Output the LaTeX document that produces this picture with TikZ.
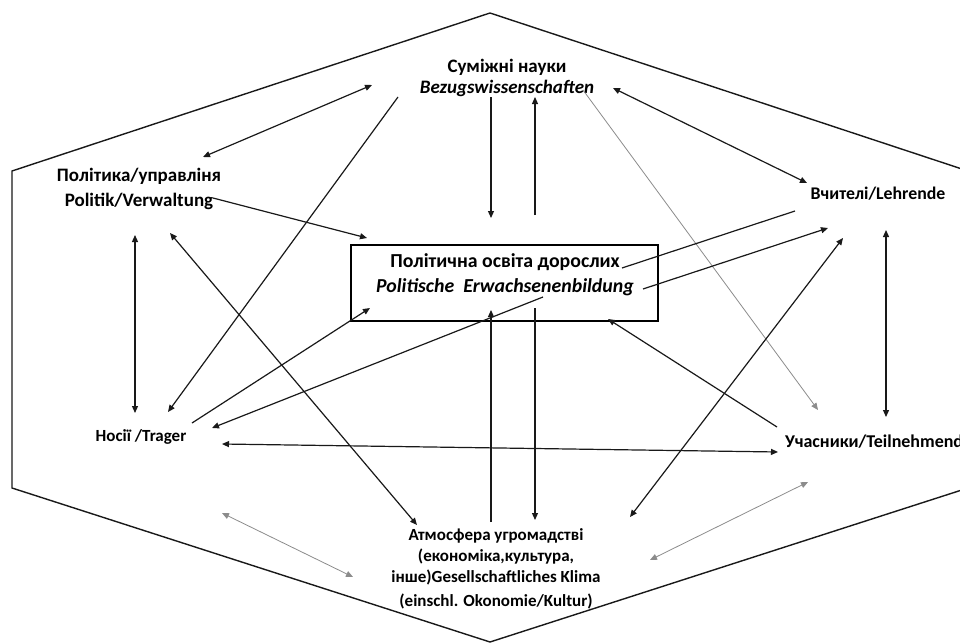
\documentclass[tikz,border=0pt]{standalone}
\usepackage{fontspec}
\setmainfont{Carlito}
\usetikzlibrary{arrows.meta}
\tikzset{
  lbl/.style={font=\fontsize{#1}{#1}\selectfont\bfseries, align=center, inner sep=0pt},
  lbl/.default=17,
  conn/.style={line width=1.2pt, draw=black!90},
  thin/.style={line width=0.8pt, draw=black!45},
  tip/.style={-{Triangle[length=7pt,width=6pt]}},
  tips/.style={{Triangle[length=7pt,width=6pt]}-{Triangle[length=7pt,width=6pt]}},
  frame/.style={line width=1.4pt, draw=black!90},
}
\begin{document}
\begin{tikzpicture}[x=1pt,y=-1pt]
\clip (0,0) rectangle (960,642);
\fill[white] (0,0) rectangle (960,642);
% hexagon
\draw[frame] (490,13) -- (968,171) -- (968,488) -- (490,642) -- (12,488) -- (12,171) -- cycle;
% nodes
\node[lbl=19] (sci) at (507,77.5) {Суміжні науки\\[2pt]\textit{Bezugswissenschaften}};
\node[lbl=19] (pol) at (139,188.5) {Політика/управліня\\[6pt]Politik/Verwaltung};
\node[lbl=17.8] (teach) at (878,194) {Вчителі/Lehrende};
\node[lbl=17] (carr) at (141,437) {Носії /Trager};
\node[lbl=18, anchor=west] (part) at (785,442) {Учасники/Teilnehmende};
\node[draw, line width=1.3pt, minimum width=307pt, minimum height=76pt, inner sep=0pt] (box) at (504.5,283) {};
\node[lbl=19.8] (boxtxt) at (505,274.5) {Політична освіта дорослих\\[5pt]\textit{Politische\ \ Erwachsenenbildung}};
\node[lbl=17] (atm) at (496,569) {Атмосфера угромадстві\\[4pt](економіка,культура,\\[4pt]інше)Gesellschaftliches Klima\\[7pt](einschl. Okonomie/Kultur)};
% connector end points
\coordinate (c1a) at (372,85);  \coordinate (c1b) at (203,157);
\coordinate (c2a) at (398,97);  \coordinate (c2b) at (168,412);
\coordinate (c3a) at (213,198); \coordinate (c3b) at (367,238);
\coordinate (c4a) at (135,235); \coordinate (c4b) at (135,413);
\coordinate (c5a) at (170,233); \coordinate (c5b) at (417,525);
\coordinate (c6a) at (192,423); \coordinate (c6b) at (370,308);
\coordinate (c7a) at (543,297); \coordinate (c7b) at (212,428);
\coordinate (c8a) at (491,97);  \coordinate (c8b) at (491,218);
\coordinate (c9a) at (535,215); \coordinate (c9b) at (535,97);
\coordinate (c10a) at (613,88); \coordinate (c10b) at (807,183);
\coordinate (c11a) at (583,90); \coordinate (c11b) at (818,410);
\coordinate (c12a) at (795,211); \coordinate (c12b) at (622,268);
\coordinate (c13a) at (643,289); \coordinate (c13b) at (828,228);
\coordinate (c14a) at (843,238); \coordinate (c14b) at (630,517);
\coordinate (c15a) at (886,230); \coordinate (c15b) at (886,417);
\coordinate (c16a) at (777,427); \coordinate (c16b) at (608,319);
\coordinate (c17a) at (222,444); \coordinate (c17b) at (778,452);
\coordinate (c18a) at (491,522); \coordinate (c18b) at (491,310);
\coordinate (c19a) at (535,308); \coordinate (c19b) at (535,520);
\coordinate (c20a) at (222,513); \coordinate (c20b) at (353,577);
\coordinate (c21a) at (808,482); \coordinate (c21b) at (650,560);
% connectors
\draw[conn,tips] (c1a) -- (c1b);
\draw[conn,tip] (c2a) -- (c2b);
\draw[conn,tip] (c3a) -- (c3b);
\draw[conn,tips] (c4a) -- (c4b);
\draw[conn,tips] (c5a) -- (c5b);
\draw[conn,tip] (c6a) -- (c6b);
\draw[conn,tip] (c7a) -- (c7b);
\draw[conn,tip] (c8a) -- (c8b);
\draw[conn,tip] (c9a) -- (c9b);
\draw[conn,tips] (c10a) -- (c10b);
\draw[thin,tip] (c11a) -- (c11b);
\draw[conn] (c12a) -- (c12b);
\draw[conn,tip] (c13a) -- (c13b);
\draw[conn,tips] (c14a) -- (c14b);
\draw[conn,tips] (c15a) -- (c15b);
\draw[conn,tip] (c16a) -- (c16b);
\draw[conn,tips] (c17a) -- (c17b);
\draw[conn,tip] (c18a) -- (c18b);
\draw[conn,tip] (c19a) -- (c19b);
\draw[thin,tips] (c20a) -- (c20b);
\draw[thin,tips] (c21a) -- (c21b);
\end{tikzpicture}
\end{document}
